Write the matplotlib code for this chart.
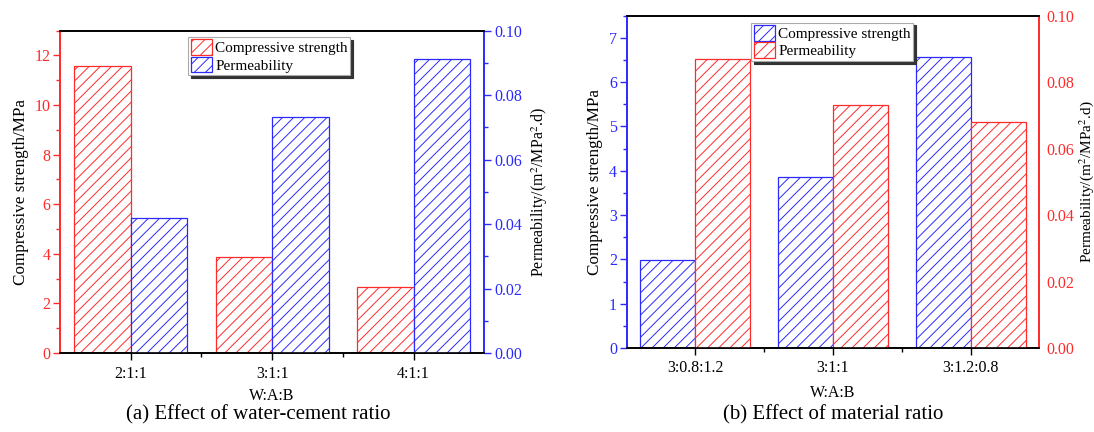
import matplotlib
matplotlib.use("Agg")
import matplotlib.pyplot as plt
import numpy as np
from matplotlib.ticker import MultipleLocator, FixedLocator

plt.rcParams['font.family'] = ['Liberation Serif', 'DejaVu Serif']
plt.rcParams['mathtext.fontset'] = 'stix'
plt.rcParams['hatch.linewidth'] = 0.7

# Panel (a)
cats_a = ["2:1:1", "3:1:1", "4:1:1"]
strength_a = [11.57, 3.86, 2.67]
perm_a = [0.042, 0.0731, 0.0912]

# Panel (b)
cats_b = ["3:0.8:1.2", "3:1:1", "3:1.2:0.8"]
strength_b = [1.98, 3.86, 6.56]
perm_b = [0.0869, 0.073, 0.0679]

RED = '#ff2a2a'
BLUE = '#2a2aff'
W, H = 1094, 432

fig = plt.figure(figsize=(W/100, H/100), dpi=100)

def make_panel(rect, cats, strength, perm, c_str, c_perm, ylim_l, major_l, minor_l,
               right_ticks, caption, cap_x, leg_anchor, rlabel_x, xlabel_y, rfs):
    ax = fig.add_axes(rect)
    ax2 = ax.twinx()
    x = np.arange(len(cats))
    bw = 0.4
    b1 = ax.bar(x - bw/2, strength, bw, facecolor='white', edgecolor=c_str, hatch='///',
                linewidth=0.9, label='Compressive strength', zorder=2)
    b2 = ax2.bar(x + bw/2, perm, bw, facecolor='white', edgecolor=c_perm, hatch='///',
                 linewidth=0.9, label='Permeability', zorder=2)
    ax.set_xlim(-0.5, 2.5)
    ax.set_ylim(*ylim_l)
    ax2.set_ylim(0, 0.1)
    ax.set_xticks(x)
    ax.set_xticklabels(cats)
    ax.xaxis.set_minor_locator(FixedLocator([0.5, 1.5]))
    ax.yaxis.set_major_locator(MultipleLocator(major_l))
    ax.yaxis.set_minor_locator(MultipleLocator(minor_l))
    ax2.yaxis.set_major_locator(MultipleLocator(0.02))
    ax2.yaxis.set_minor_locator(MultipleLocator(0.01))
    ax2.yaxis.set_major_formatter(matplotlib.ticker.FormatStrFormatter('%.2f'))
    ax.tick_params(axis='x', direction='out', length=5, width=1, labelsize=11.5, pad=4)
    ax.tick_params(axis='x', which='minor', direction='out', length=3, width=1)
    ax.tick_params(axis='y', which='major', direction='out', length=5, width=1,
                   colors=c_str, labelsize=11.5, pad=2)
    ax.tick_params(axis='y', which='minor', direction='out', length=3, width=1, colors=c_str)
    if right_ticks:
        ax2.tick_params(axis='y', which='major', direction='out', length=5, width=1,
                        colors=c_perm, labelsize=11.5, pad=2)
        ax2.tick_params(axis='y', which='minor', direction='out', length=3, width=1, colors=c_perm)
    else:
        ax2.tick_params(axis='y', which='both', length=0, colors=c_perm, labelsize=11.5, pad=5)
    for a in (ax, ax2):
        a.spines['left'].set_color(c_str)
        a.spines['right'].set_color(c_perm)
        a.spines['top'].set_color('black')
        a.spines['bottom'].set_color('black')
        for s in a.spines.values():
            s.set_linewidth(1.2)
    ax.set_ylabel('Compressive strength/MPa', fontsize=12.3, color='black', labelpad=4)
    ax2.set_ylabel('Permeability/(m$^2$/MPa$^2$.d)', fontsize=rfs, color='black')
    ax2.yaxis.set_label_coords(rlabel_x, 0.5)
    ax.set_xlabel('W:A:B', fontsize=11.5)
    ax.xaxis.set_label_coords(0.5, xlabel_y)
    leg = ax2.legend([b1, b2], ['Compressive strength', 'Permeability'],
                     loc='upper center', bbox_to_anchor=leg_anchor, fontsize=11,
                     frameon=True, fancybox=False, shadow={'color': '#333333', 'alpha': 1},
                     handlelength=1.4, handleheight=1.2, handletextpad=0.2,
                     borderpad=0.15, labelspacing=0.1, borderaxespad=0.0)
    leg.get_frame().set_edgecolor('#aaaaaa')
    leg.get_frame().set_linewidth(0.8)
    fig.text(cap_x, 1 - 415/H, caption, fontsize=15, ha='center', va='center')
    return ax, ax2

ha_ = 353 - 30.7
hb_ = 348 - 15.7
make_panel([60/W, 1-353/H, (484.3-60)/W, ha_/H], cats_a, strength_a, perm_a,
           RED, BLUE, (0, 13), 2, 1, True, '(a) Effect of water-cement ratio', 258/W,
           (0.493, 0.981), (529 - 60)/424.3, -(388 - 353)/ha_, 11.5)
make_panel([626.7/W, 1-348/H, (1039.3-626.7)/W, hb_/H], cats_b, strength_b, perm_b,
           BLUE, RED, (0, 7.5), 1, 0.5, False, '(b) Effect of material ratio', 833/W,
           (0.498, 0.979), (1077 - 626.7)/412.6, -(385 - 348)/hb_, 11)

fig.savefig('out.png', dpi=100)
